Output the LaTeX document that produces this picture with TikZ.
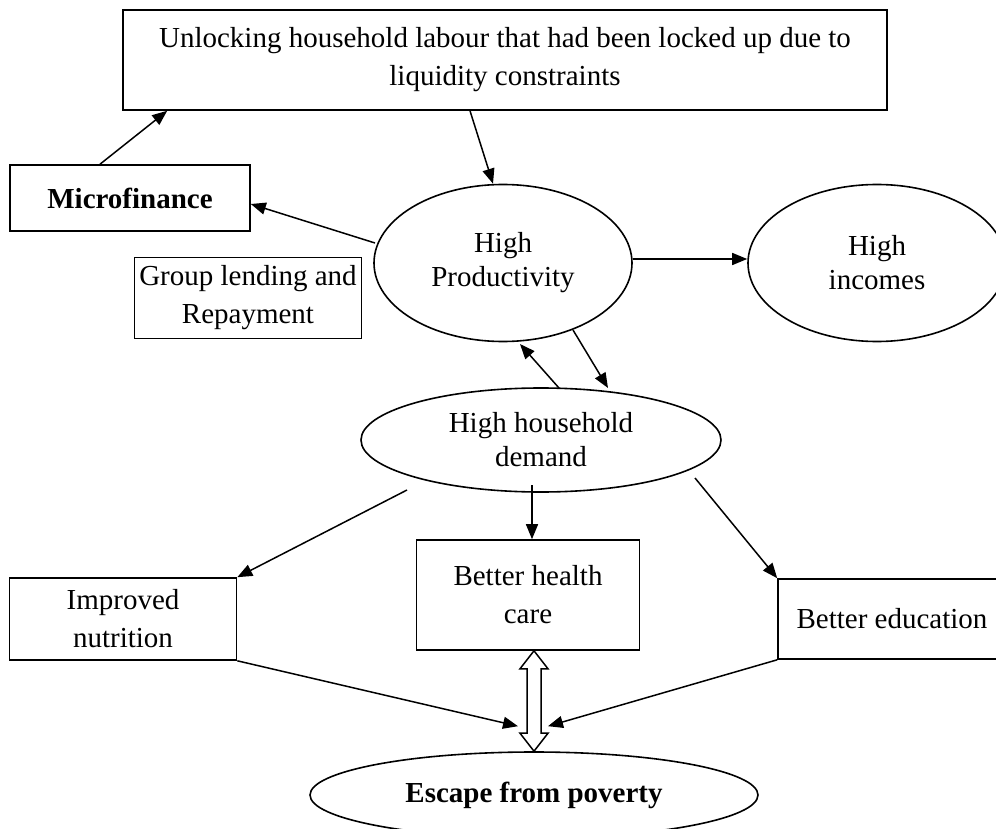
\documentclass[tikz,border=0pt]{standalone}
\usepackage{fontspec}
\setmainfont{Liberation Serif}
\usepackage{tikz}
\usetikzlibrary{shapes.geometric,arrows.meta,calc}

\begin{document}
\begin{tikzpicture}[x=1pt,y=-1pt,
  box/.style={draw,line width=1.6pt,inner sep=0pt,align=center,font=\fontsize{29}{38}\selectfont},
  oval/.style={draw,ellipse,line width=1.6pt,inner sep=0pt,align=center,font=\fontsize{29}{34}\selectfont},
  arr/.style={line width=1.5pt,-{Triangle[length=15pt,width=12pt]}}]
\clip (0,0) rectangle (996,829);
\fill[white] (0,0) rectangle (996,829);
\node[box,minimum width=764pt,minimum height=100pt] (unlock) at (505,60)
  {Unlocking household labour that had been locked up due to\\liquidity constraints};
\node[box,minimum width=240pt,minimum height=66pt,font=\fontsize{29}{38}\selectfont\bfseries] (micro) at (130,198) {Microfinance};
\node[box,minimum width=227pt,minimum height=81pt] (group) at (248,298) {Group lending and\\Repayment};
\node[oval,minimum width=258pt,minimum height=157pt] (prod) at (503,263) {High\\Productivity};
\node[oval,minimum width=258pt,minimum height=157pt] (income) at (877,263) {High\\incomes};
\node[oval,minimum width=360pt,minimum height=104pt] (demand) at (541,440) {High household\\demand};
\node[box,minimum width=227pt,minimum height=82pt] (nutri) at (123,619) {Improved\\nutrition};
\node[box,minimum width=223pt,minimum height=110pt] (health) at (528,595) {Better health\\care};
\node[box,minimum width=228pt,minimum height=80pt] (edu) at (892,619) {Better education};
\node[oval,minimum width=448pt,minimum height=86pt,font=\fontsize{29}{34}\selectfont\bfseries] (escape) at (534,795) {Escape from poverty};
\coordinate (hs) at (health.south -| escape.north);

\draw[arr] ($(micro.north)+(-30,0)$) -- ($(unlock.south west)+(45,0)$);
\draw[arr] ($(unlock.south)+(-35,0)$) -- ($(prod.north)+(-10,0)$);
\draw[arr] ($(prod.center)+(-128,-20)$) -- ($(micro.east)+(0,6)$);
\draw[arr] ($(prod.east)+(0,-4)$) -- ($(income.west)+(0,-4)$);
\draw[arr] ($(prod.center)+(70,67)$) -- ($(demand.center)+(67,-52)$);
\draw[arr] ($(demand.center)+(18,-52)$) -- ($(prod.center)+(17,81)$);
\draw[arr] ($(demand.center)+(-134,50)$) -- (nutri.north east);
\draw[arr] ($(demand.center)+(-9,45)$) -- ($(health.north)+(4,0)$);
\draw[arr] ($(demand.center)+(154,38)$) -- (edu.north west);
\draw[arr] (nutri.south east) -- ($(escape.north)+(-16,-25)$);
\draw[arr] (edu.south west) -- ($(escape.north)+(14,-25)$);
\draw[line width=1.5pt,fill=white,line join=miter]
  (hs) -- ++(14,18) -- ++(-7,0) -- ($(escape.north)+(7,-18)$)
  -- ++(7,0) -- (escape.north) -- ++(-14,-18) -- ++(7,0)
  -- ($(hs)+(-7,18)$) -- ++(-7,0) -- cycle;
\end{tikzpicture}
\end{document}
